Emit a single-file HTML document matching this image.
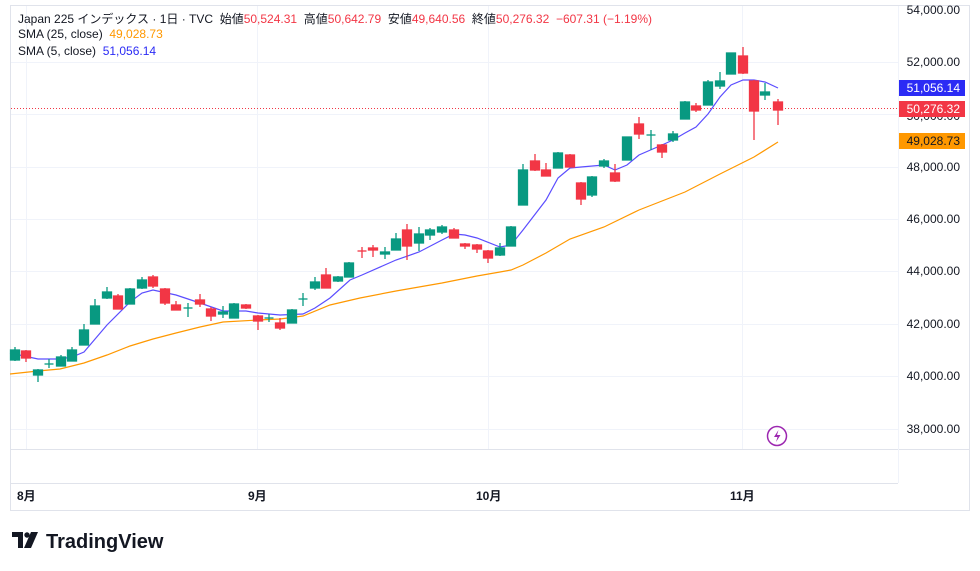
<!DOCTYPE html>
<html><head><meta charset="utf-8"><style>
html,body{margin:0;padding:0;background:#fff;}
body{width:980px;height:571px;position:relative;overflow:hidden;font-family:"Liberation Sans","Noto Sans CJK JP",sans-serif;}
.t{position:absolute;font-size:12px;color:#131722;white-space:nowrap;}
</style></head><body>
<svg width="980" height="571" style="position:absolute;left:0;top:0" font-family="Liberation Sans, Noto Sans CJK JP, sans-serif">
<rect x="10.5" y="5.5" width="959" height="505" fill="none" stroke="#e0e3eb"/>
<g stroke="#f0f3fa" stroke-width="1">
<line x1="11" x2="898" y1="62.5" y2="62.5"/><line x1="11" x2="898" y1="114.5" y2="114.5"/>
<line x1="11" x2="898" y1="167.5" y2="167.5"/><line x1="11" x2="898" y1="219.5" y2="219.5"/>
<line x1="11" x2="898" y1="271.5" y2="271.5"/><line x1="11" x2="898" y1="324.5" y2="324.5"/>
<line x1="11" x2="898" y1="376.5" y2="376.5"/><line x1="11" x2="898" y1="429.5" y2="429.5"/>
<line x1="26.5" x2="26.5" y1="6" y2="449"/><line x1="257.5" x2="257.5" y1="6" y2="449"/>
<line x1="488.5" x2="488.5" y1="6" y2="449"/><line x1="742.5" x2="742.5" y1="6" y2="449"/>
</g>
<line x1="11" x2="970" y1="449.5" y2="449.5" stroke="#e0e3eb"/>
<line x1="11" x2="898" y1="483.5" y2="483.5" stroke="#e0e3eb"/>
<line x1="898.5" x2="898.5" y1="6" y2="483" stroke="#f0f3fa"/>
<line x1="11" x2="898" y1="108.5" y2="108.5" stroke="#f23645" stroke-dasharray="1,2"/>
<polyline fill="none" stroke="#ff9800" stroke-width="1.2" points="10,374 38,371 60,369 84,363 107,355 130,346 153,339 176,333 200,327 223,322 258,320 280,319 303,316 330,305 360,298 396,291 442,283 477,276 500,272 511,270 523,265 546,253 570,239 604,227 639,210 685,192 720,174 754,157 778,142"/>
<polyline fill="none" stroke="#5b4dff" stroke-width="1.2" points="10,353 38,359 60,359 72,357 84,352 107,325 130,302 142,293 153,290 176,295 200,303 223,311 246,311 258,313 280,315 303,314 315,308 330,298 350,280 362,275 396,260 419,252 442,240 454,234 465,235 477,238 500,247 511,245 523,230 546,200 558,178 570,168 581,167 604,165 615,170 627,165 639,155 662,145 673,140 685,133 696,127 708,114 720,97 731,85 743,80 754,80 765,82 778,88"/>
<g stroke-width="1.3">
<g stroke="#089981" fill="#089981">
<line x1="15" x2="15" y1="347" y2="361"/><rect x="10.5" y="350" width="9" height="10"/>
<line x1="38" x2="38" y1="369" y2="382"/><rect x="33.5" y="370" width="9" height="5"/>
<line x1="49" x2="49" y1="359" y2="368"/><line x1="44.5" x2="53.5" y1="364" y2="364"/>
<line x1="61" x2="61" y1="355" y2="366"/><rect x="56.5" y="357" width="9" height="9"/>
<line x1="72" x2="72" y1="347" y2="361"/><rect x="67.5" y="350" width="9" height="11"/>
<line x1="84" x2="84" y1="324" y2="345"/><rect x="79.5" y="330" width="9" height="15"/>
<line x1="95" x2="95" y1="299" y2="324"/><rect x="90.5" y="306" width="9" height="18"/>
<line x1="107" x2="107" y1="287" y2="299"/><rect x="102.5" y="292" width="9" height="6"/>
<line x1="130" x2="130" y1="288" y2="304"/><rect x="125.5" y="289" width="9" height="15"/>
<line x1="142" x2="142" y1="277" y2="289"/><rect x="137.5" y="280" width="9" height="8"/>
<line x1="188" x2="188" y1="303" y2="317"/><line x1="183.5" x2="192.5" y1="308" y2="308"/>
<line x1="223" x2="223" y1="306" y2="318"/><rect x="218.5" y="312" width="9" height="2"/>
<line x1="234" x2="234" y1="303" y2="318"/><rect x="229.5" y="304" width="9" height="14"/>
<line x1="269" x2="269" y1="314" y2="322"/><line x1="264.5" x2="273.5" y1="318" y2="318"/>
<line x1="292" x2="292" y1="309" y2="323"/><rect x="287.5" y="310" width="9" height="13"/>
<line x1="303" x2="303" y1="293" y2="306"/><line x1="298.5" x2="307.5" y1="299" y2="299"/>
<line x1="315" x2="315" y1="277" y2="290"/><rect x="310.5" y="282" width="9" height="6"/>
<line x1="338" x2="338" y1="276" y2="282"/><rect x="333.5" y="277" width="9" height="4"/>
<line x1="349" x2="349" y1="262" y2="277"/><rect x="344.5" y="263" width="9" height="14"/>
<line x1="385" x2="385" y1="247" y2="259"/><rect x="380.5" y="252" width="9" height="2"/>
<line x1="396" x2="396" y1="233" y2="250"/><rect x="391.5" y="239" width="9" height="11"/>
<line x1="419" x2="419" y1="227" y2="251"/><rect x="414.5" y="234" width="9" height="9"/>
<line x1="430" x2="430" y1="228" y2="240"/><rect x="425.5" y="230" width="9" height="5"/>
<line x1="442" x2="442" y1="225" y2="234"/><rect x="437.5" y="227" width="9" height="5"/>
<line x1="500" x2="500" y1="243" y2="256"/><rect x="495.5" y="248" width="9" height="7"/>
<line x1="511" x2="511" y1="226" y2="246"/><rect x="506.5" y="227" width="9" height="19"/>
<line x1="523" x2="523" y1="164" y2="205"/><rect x="518.5" y="170" width="9" height="35"/>
<line x1="558" x2="558" y1="152" y2="168"/><rect x="553.5" y="153" width="9" height="15"/>
<line x1="592" x2="592" y1="176" y2="197"/><rect x="587.5" y="177" width="9" height="18"/>
<line x1="604" x2="604" y1="159" y2="168"/><rect x="599.5" y="161" width="9" height="5"/>
<line x1="627" x2="627" y1="137" y2="160"/><rect x="622.5" y="137" width="9" height="23"/>
<line x1="651" x2="651" y1="130" y2="150"/><line x1="646.5" x2="655.5" y1="135" y2="135"/>
<line x1="673" x2="673" y1="131" y2="142"/><rect x="668.5" y="134" width="9" height="6"/>
<line x1="685" x2="685" y1="101" y2="119"/><rect x="680.5" y="102" width="9" height="17"/>
<line x1="708" x2="708" y1="80" y2="105"/><rect x="703.5" y="82" width="9" height="23"/>
<line x1="720" x2="720" y1="72" y2="89"/><rect x="715.5" y="81" width="9" height="5"/>
<line x1="731" x2="731" y1="53" y2="74"/><rect x="726.5" y="53" width="9" height="21"/>
<line x1="765" x2="765" y1="83" y2="100"/><rect x="760.5" y="92" width="9" height="3"/>
</g>
<g stroke="#f23645" fill="#f23645">
<line x1="26" x2="26" y1="350" y2="362"/><rect x="21.5" y="351" width="9" height="7"/>
<line x1="118" x2="118" y1="294" y2="309"/><rect x="113.5" y="296" width="9" height="13"/>
<line x1="153" x2="153" y1="275" y2="288"/><rect x="148.5" y="277" width="9" height="9"/>
<line x1="165" x2="165" y1="288" y2="305"/><rect x="160.5" y="289" width="9" height="14"/>
<line x1="176" x2="176" y1="301" y2="310"/><rect x="171.5" y="305" width="9" height="5"/>
<line x1="200" x2="200" y1="294" y2="307"/><rect x="195.5" y="300" width="9" height="4"/>
<line x1="211" x2="211" y1="307" y2="321"/><rect x="206.5" y="309" width="9" height="7"/>
<line x1="246" x2="246" y1="304" y2="309"/><rect x="241.5" y="305" width="9" height="3"/>
<line x1="258" x2="258" y1="315" y2="330"/><rect x="253.5" y="316" width="9" height="5"/>
<line x1="280" x2="280" y1="318" y2="330"/><rect x="275.5" y="323" width="9" height="5"/>
<line x1="326" x2="326" y1="268" y2="288"/><rect x="321.5" y="275" width="9" height="13"/>
<line x1="362" x2="362" y1="247" y2="258"/><line x1="357.5" x2="366.5" y1="251" y2="251"/>
<line x1="373" x2="373" y1="245" y2="257"/><rect x="368.5" y="248" width="9" height="2"/>
<line x1="407" x2="407" y1="224" y2="260"/><rect x="402.5" y="230" width="9" height="16"/>
<line x1="454" x2="454" y1="228" y2="238"/><rect x="449.5" y="230" width="9" height="8"/>
<line x1="465" x2="465" y1="243" y2="249"/><rect x="460.5" y="244" width="9" height="2"/>
<line x1="477" x2="477" y1="244" y2="253"/><rect x="472.5" y="245" width="9" height="4"/>
<line x1="488" x2="488" y1="250" y2="263"/><rect x="483.5" y="251" width="9" height="7"/>
<line x1="535" x2="535" y1="154" y2="171"/><rect x="530.5" y="161" width="9" height="9"/>
<line x1="546" x2="546" y1="163" y2="176"/><rect x="541.5" y="170" width="9" height="6"/>
<line x1="570" x2="570" y1="154" y2="167"/><rect x="565.5" y="155" width="9" height="12"/>
<line x1="581" x2="581" y1="182" y2="205"/><rect x="576.5" y="183" width="9" height="16"/>
<line x1="615" x2="615" y1="164" y2="182"/><rect x="610.5" y="173" width="9" height="8"/>
<line x1="639" x2="639" y1="117" y2="139"/><rect x="634.5" y="124" width="9" height="10"/>
<line x1="662" x2="662" y1="144" y2="158"/><rect x="657.5" y="145" width="9" height="7"/>
<line x1="696" x2="696" y1="103" y2="112"/><rect x="691.5" y="106" width="9" height="4"/>
<line x1="743" x2="743" y1="47" y2="74"/><rect x="738.5" y="56" width="9" height="17"/>
<line x1="754" x2="754" y1="80" y2="140"/><rect x="749.5" y="81" width="9" height="30"/>
<line x1="778" x2="778" y1="99" y2="125"/><rect x="773.5" y="102" width="9" height="8"/>
</g>
</g>
<g font-size="12" fill="#131722">
<text x="960" y="14" text-anchor="end">54,000.00</text>
<text x="960" y="66" text-anchor="end">52,000.00</text>
<text x="960" y="120" text-anchor="end">50,000.00</text>
<text x="960" y="171" text-anchor="end">48,000.00</text>
<text x="960" y="223" text-anchor="end">46,000.00</text>
<text x="960" y="275" text-anchor="end">44,000.00</text>
<text x="960" y="328" text-anchor="end">42,000.00</text>
<text x="960" y="380" text-anchor="end">40,000.00</text>
<text x="960" y="433" text-anchor="end">38,000.00</text>
</g>
<rect x="899" y="80" width="66" height="16" fill="#2b2bf5"/>
<text x="960" y="92" text-anchor="end" font-size="12" fill="#fff">51,056.14</text>
<rect x="899" y="101" width="66" height="16" fill="#f23645"/>
<text x="960" y="113" text-anchor="end" font-size="12" fill="#fff">50,276.32</text>
<rect x="899" y="133" width="66" height="16" fill="#ff9800"/>
<text x="960" y="145" text-anchor="end" font-size="12" fill="#131722">49,028.73</text>
<circle cx="777" cy="436" r="9.5" fill="#fff" stroke="#9c27b0" stroke-width="1.5"/>
<path d="M778.5 430 L774 437 L777.5 437 L776 442 L780.5 435 L777 435 Z" fill="#9c27b0"/>
<g font-size="12" fill="#131722" font-weight="bold">
<text x="17" y="500">8月</text><text x="248" y="500">9月</text><text x="476" y="500">10月</text><text x="730" y="500">11月</text>
</g>
<g transform="translate(12,532)" fill="#131722">
<path d="M0 0 H11 V16 H6 V5 H0 Z"/><circle cx="15" cy="3" r="2.7"/><path d="M19 0 H26 L19 16 H12 Z"/>
</g>
<text x="46" y="548" font-size="20" font-weight="bold" fill="#131722">TradingView</text>
</svg>
<div class="t" style="left:18px;top:10px">Japan 225 インデックス · 1日 · TVC&nbsp; 始値<span style="color:#f23645">50,524.31</span>&nbsp; 高値<span style="color:#f23645">50,642.79</span>&nbsp; 安値<span style="color:#f23645">49,640.56</span>&nbsp; 終値<span style="color:#f23645">50,276.32&nbsp; −607.31 (−1.19%)</span></div>
<div class="t" style="left:18px;top:27px">SMA (25, close)&nbsp; <span style="color:#ff9800">49,028.73</span></div>
<div class="t" style="left:18px;top:44px">SMA (5, close)&nbsp; <span style="color:#2b2bf5">51,056.14</span></div>
</body></html>
